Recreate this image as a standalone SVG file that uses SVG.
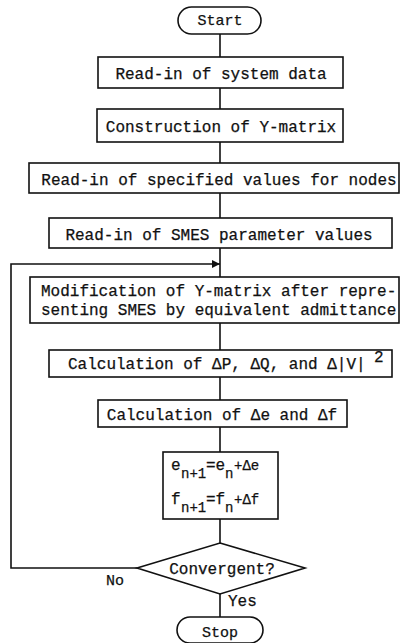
<svg xmlns="http://www.w3.org/2000/svg" width="404" height="643" viewBox="0 0 404 643">
  <style>
    .box { fill: #fff; stroke: #111; stroke-width: 1.6; }
    .ln { fill: none; stroke: #111; stroke-width: 1.6; }
    .t { font-family: "Liberation Mono", "Courier New", monospace; font-size: 16px; fill: #111; stroke: #111; stroke-width: 0.25; }
    .m { text-anchor: middle; }
    .s { font-size: 15px; }
    .sub { font-size: 14px; }
  </style>
  <defs>
    <marker id="arrow" viewBox="0 0 10 10" refX="10" refY="5" markerWidth="8" markerHeight="8" markerUnits="userSpaceOnUse" orient="auto">
      <path d="M0,0 L10,5 L0,10 z" fill="#111"/>
    </marker>
  </defs>
  <rect width="404" height="643" fill="#fff"/>

  <!-- connectors -->
  <g id="connectors">
    <line class="ln" x1="220" y1="34" x2="220" y2="57"/>
    <line class="ln" x1="220" y1="88" x2="220" y2="109"/>
    <line class="ln" x1="220" y1="142" x2="220" y2="163"/>
    <line class="ln" x1="220" y1="193" x2="220" y2="218"/>
    <line class="ln" x1="220" y1="248" x2="220" y2="277"/>
    <line class="ln" x1="220" y1="323" x2="220" y2="350"/>
    <line class="ln" x1="220" y1="377" x2="220" y2="400"/>
    <line class="ln" x1="220" y1="427" x2="220" y2="452"/>
    <line class="ln" x1="220" y1="519" x2="220" y2="543"/>
    <line class="ln" x1="220" y1="594" x2="220" y2="617"/>
    <polyline class="ln" points="137,568 11,568 11,264 220,264" marker-end="url(#arrow)"/>
    <text class="t s" x="106" y="585">No</text>
    <text class="t" x="228" y="606">Yes</text>
  </g>

  <g id="start">
    <rect class="box" x="178" y="7" width="83" height="27" rx="13.5"/>
    <text class="t s m" x="220" y="25">Start</text>
  </g>

  <g id="read-system-data">
    <rect class="box" x="98" y="57" width="245" height="31"/>
    <text class="t m" x="221" y="79">Read-in of system data</text>
  </g>

  <g id="construct-y-matrix">
    <rect class="box" x="97" y="109" width="246" height="33"/>
    <text class="t m" x="221" y="132">Construction of Y-matrix</text>
  </g>

  <g id="read-node-values">
    <rect class="box" x="29" y="163" width="370" height="30"/>
    <text class="t m" x="219" y="185">Read-in of specified values for nodes</text>
  </g>

  <g id="read-smes-params">
    <rect class="box" x="49" y="218" width="343" height="30"/>
    <text class="t m" x="219" y="240">Read-in of SMES parameter values</text>
  </g>

  <g id="modify-y-matrix">
    <rect class="box" x="30" y="277" width="369" height="46"/>
    <text class="t" x="41" y="296">Modification of Y-matrix after repre-</text>
    <text class="t" x="41" y="315">senting SMES by equivalent admittance</text>
  </g>

  <g id="calc-mismatch">
    <rect class="box" x="49" y="350" width="343" height="27"/>
    <text class="t" x="68" y="369">Calculation of ΔP, ΔQ, and Δ|V|</text>
    <text class="t" x="374" y="362">2</text>
  </g>

  <g id="calc-corrections">
    <rect class="box" x="98" y="400" width="249" height="27"/>
    <text class="t m" x="222" y="420">Calculation of Δe and Δf</text>
  </g>

  <g id="update">
    <rect class="box" x="163" y="452" width="115" height="67"/>
    <text class="t" x="171" y="470">e</text>
    <text class="t sub" x="181" y="478">n+1</text>
    <text class="t" x="206" y="470">=e</text>
    <text class="t sub" x="225" y="478">n</text>
    <text class="t sub" x="234" y="470">+Δe</text>
    <text class="t" x="171" y="504">f</text>
    <text class="t sub" x="181" y="512">n+1</text>
    <text class="t" x="206" y="504">=f</text>
    <text class="t sub" x="225" y="512">n</text>
    <text class="t sub" x="234" y="504">+Δf</text>
  </g>

  <g id="convergent">
    <polygon class="box" points="220,543 305,568 220,594 137,568"/>
    <text class="t m" x="222" y="574">Convergent?</text>
  </g>

  <g id="stop">
    <rect class="box" x="177" y="617" width="86" height="26" rx="13"/>
    <text class="t s m" x="220" y="637">Stop</text>
  </g>
</svg>
